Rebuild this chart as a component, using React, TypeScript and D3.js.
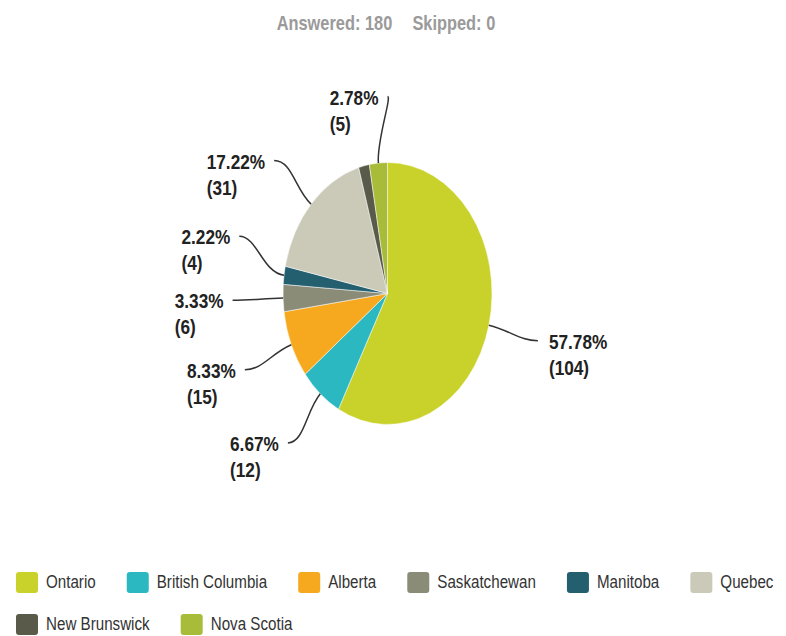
import React, { useEffect, useRef } from "react";
import * as d3 from "d3";

const categories = [
  "Ontario",
  "British Columbia",
  "Alberta",
  "Saskatchewan",
  "Manitoba",
  "Quebec",
  "New Brunswick",
  "Nova Scotia",
];
const counts = [104, 12, 15, 6, 4, 31, 3, 5];
const colors = [
  "#c9d22b",
  "#2cb8c1",
  "#f6a91e",
  "#8a8c77",
  "#245f70",
  "#cbcab8",
  "#5a5a4a",
  "#a8bc3a",
];
const answered = 180;
const skipped = 0;

const W = 786;
const H = 636;
const FONT = "'Liberation Sans', Arial, sans-serif";
const SX = 0.82; // horizontal condensing to mimic a narrow face

export default function App() {
  const ref = useRef<SVGSVGElement>(null);

  useEffect(() => {
    const svg = d3.select(ref.current);
    svg.selectAll("*").remove();

    const cx = 387.5, cy = 293.5, rx = 104.5, ry = 131;
    const lrx = 155, lry = 195;
    const total = d3.sum(counts);

    // helper: condensed text placed at (x, baseline y), returns its drawn width
    const addText = (
      parent: any, str: string, size: number, weight: string, fill: string
    ) => {
      const t = parent.append("text").text(str)
        .attr("font-family", FONT).attr("font-weight", weight)
        .attr("font-size", size).attr("fill", fill);
      const w = (t.node() as SVGTextElement).getComputedTextLength() * SX;
      const place = (x: number, y: number) =>
        t.attr("transform", `translate(${x},${y}) scale(${SX},1)`);
      return { w, place };
    };

    // Title
    const tg = svg.append("g");
    const t1 = addText(tg, `Answered: ${answered}`, 20, "bold", "#9a9a9a");
    const t2 = addText(tg, `Skipped: ${skipped}`, 20, "bold", "#9a9a9a");
    const gap = 20;
    const start = 386 - (t1.w + gap + t2.w) / 2;
    t1.place(start, 30);
    t2.place(start + t1.w + gap, 30);

    // Pie
    const data = categories.map((c, i) => ({ name: c, value: counts[i], color: colors[i] }));
    const pie = d3.pie<any>().value((d: any) => d.value).sort(null);
    const arcs = pie(data);
    const arcGen = d3.arc<any>().innerRadius(0).outerRadius(ry);
    const g = svg.append("g").attr("transform", `translate(${cx},${cy}) scale(${rx / ry},1)`);
    g.selectAll("path").data(arcs).join("path")
      .attr("d", arcGen as any)
      .attr("fill", (d: any) => d.data.color)
      .attr("stroke", "#ffffff")
      .attr("stroke-width", 0.5)
      .attr("vector-effect", "non-scaling-stroke");

    // Labels
    const labels = arcs
      .filter((a: any) => a.data.value / total >= 0.02)
      .map((a: any) => {
        const mid = (a.startAngle + a.endAngle) / 2;
        const s = Math.sin(mid), c = -Math.cos(mid);
        return {
          a, s, c,
          ax: cx + rx * s, ay: cy + ry * c,
          ty: cy + lry * c,
          left: mid > Math.PI,
          y: cy + lry * c,
          x: 0,
        };
      });
    const spacing = 64;
    [true, false].forEach((side) => {
      const grp = labels.filter((l) => l.left === side).sort((p, q) => p.ty - q.ty);
      for (let i = grp.length - 2; i >= 0; i--) grp[i].y = Math.min(grp[i].y, grp[i + 1].y - spacing);
      for (let i = 1; i < grp.length; i++) grp[i].y = Math.max(grp[i].y, grp[i - 1].y + spacing);
    });
    labels.forEach((l) => {
      const k = Math.sqrt(Math.max(0, 1 - ((l.y - cy) / lry) ** 2));
      l.x = l.left ? cx - lrx * k : cx + lrx * k;
    });

    const lg = svg.append("g");
    labels.forEach((l) => {
      const dir = l.left ? 1 : -1;
      const off = Math.min(18, Math.abs(l.ax - l.x) * 0.5);
      const p = d3.path();
      p.moveTo(l.ax, l.ay);
      p.bezierCurveTo(l.ax + l.s * 22, l.ay + l.c * 22, l.x + dir * off, l.y, l.x, l.y);
      lg.append("path").attr("d", p.toString()).attr("fill", "none")
        .attr("stroke", "#333").attr("stroke-width", 1.5);
      const pct = ((l.a.data.value / total) * 100).toFixed(2) + "%";
      const a1 = addText(lg, pct, 21, "bold", "#222");
      const a2 = addText(lg, `(${l.a.data.value})`, 21, "bold", "#222");
      const tx = l.left ? l.x - 9 - a1.w : l.x + 11;
      a1.place(tx, l.y + 8);
      a2.place(tx, l.y + 34);
    });

    // Legend
    const leg = svg.append("g");
    let x = 16, row = 0;
    data.forEach((d) => {
      const item = leg.append("g");
      const lab = addText(item, d.name, 18.5, "normal", "#333");
      if (x + 30 + lab.w > W - 2) { x = 16; row += 1; }
      const yTop = 572 + row * 42;
      item.insert("rect", "text").attr("x", x).attr("y", yTop).attr("width", 22).attr("height", 21)
        .attr("rx", 3).attr("fill", d.color);
      lab.place(x + 30, yTop + 16);
      x = x + 30 + lab.w + 31;
    });
  }, []);

  return (
    <svg
      ref={ref}
      width={W}
      height={H}
      style={{ position: "absolute", left: 0, top: 0, background: "#fff" }}
    />
  );
}
